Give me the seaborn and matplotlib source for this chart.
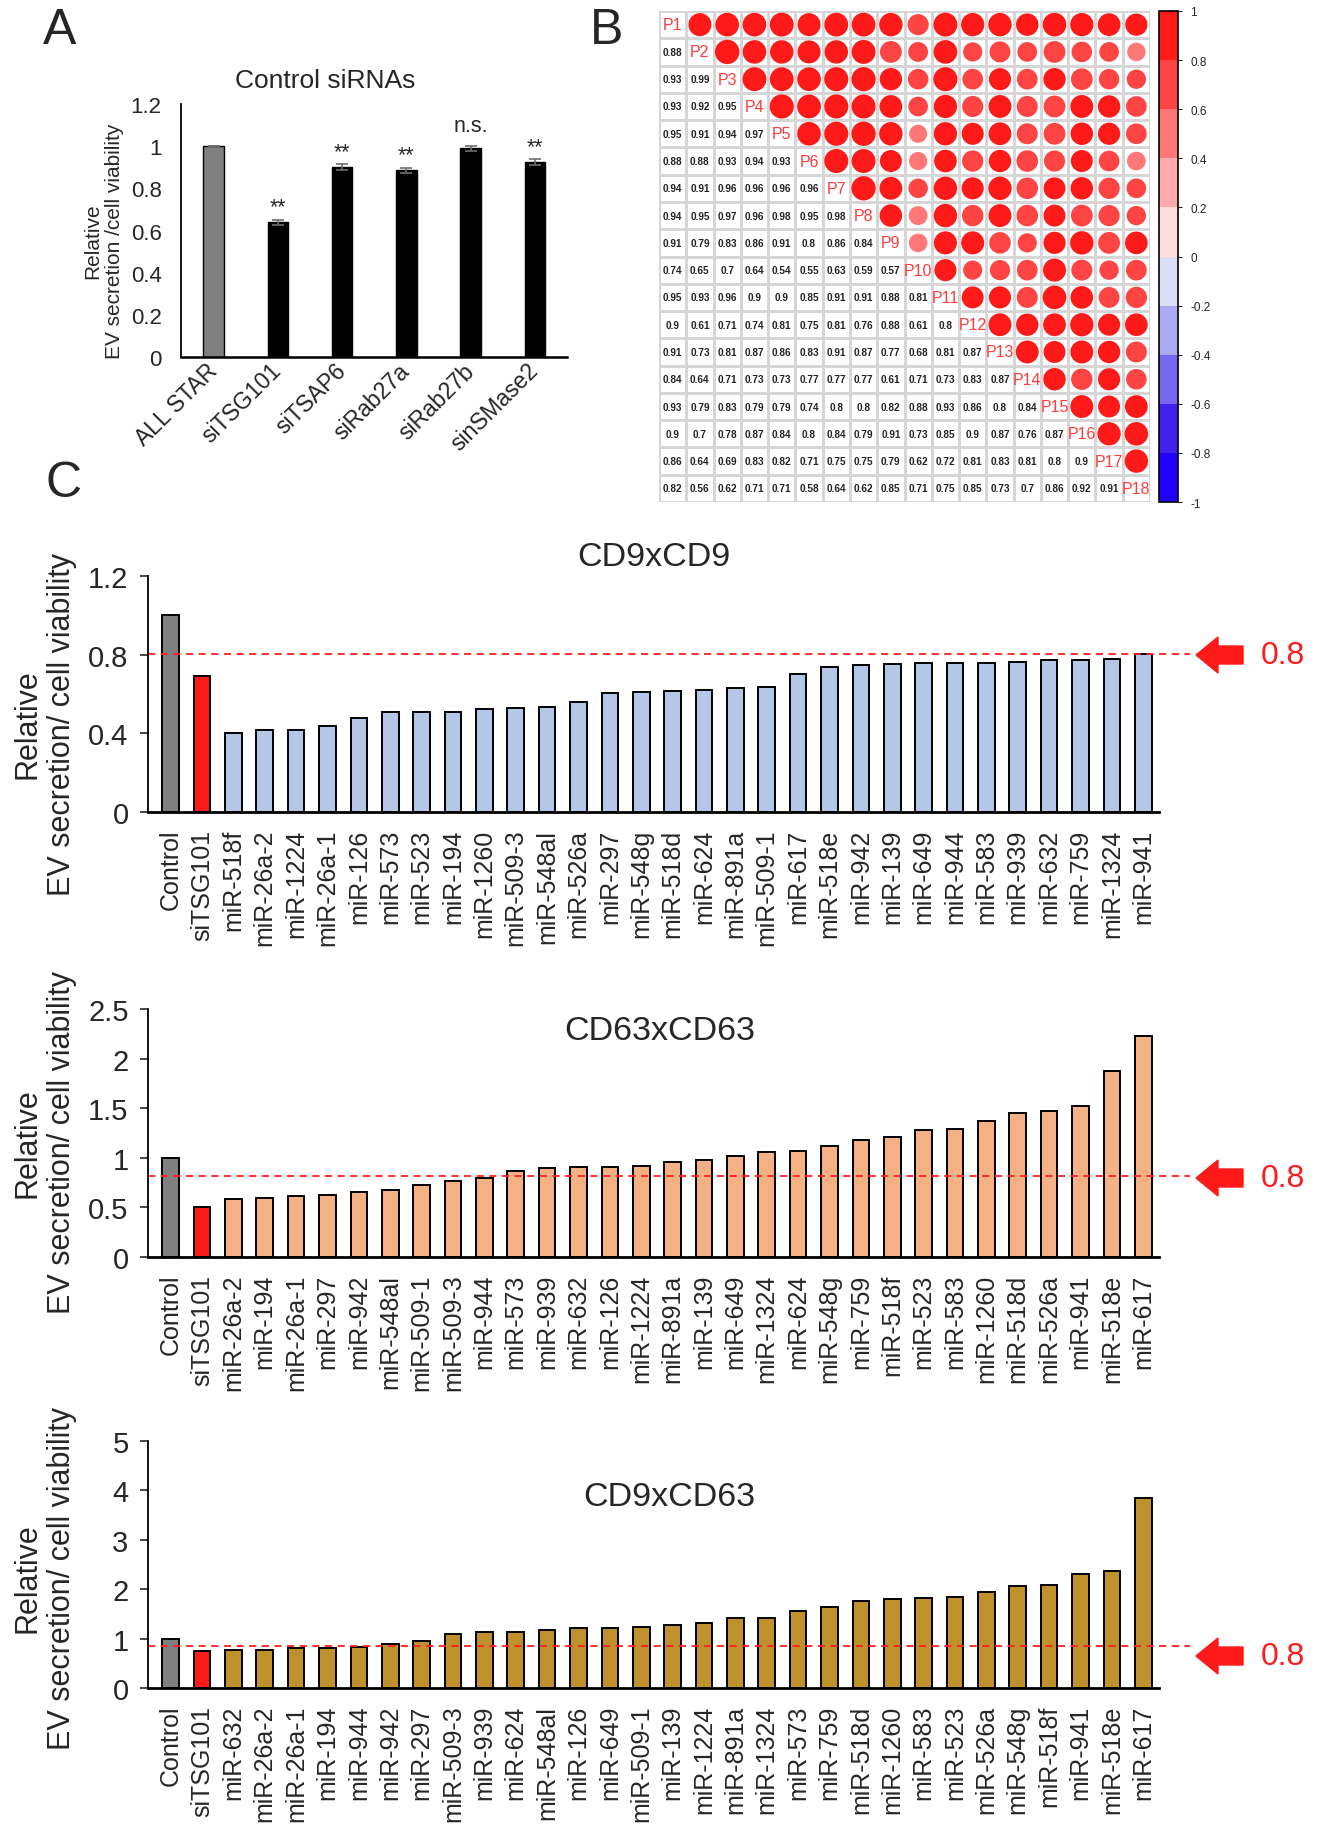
import numpy as np
import seaborn as sns
import matplotlib
matplotlib.use("Agg")
from matplotlib import pyplot as plt
from matplotlib import cm
from matplotlib.colors import ListedColormap, BoundaryNorm
from matplotlib.patches import Circle, FancyArrow
from matplotlib.transforms import IdentityTransform, blended_transform_factory

W, H = 1319, 1831

# ---- panel A: control siRNAs
ctrl_names = ["ALL STAR", "siTSG101", "siTSAP6", "siRab27a", "siRab27b", "sinSMase2"]
ctrl_vals = [1.0, 0.64, 0.90, 0.885, 0.99, 0.925]
ctrl_err = [0.0, 0.012, 0.015, 0.013, 0.012, 0.012]
ctrl_marks = ["", "**", "**", "**", "n.s.", "**"]

# ---- panel B: correlation between plates (lower triangle, row by row)
samples = [f"P{i}" for i in range(1, 19)]
corr_rows = [
    [0.88],
    [0.93, 0.99],
    [0.93, 0.92, 0.95],
    [0.95, 0.91, 0.94, 0.97],
    [0.88, 0.88, 0.93, 0.94, 0.93],
    [0.94, 0.91, 0.96, 0.96, 0.96, 0.96],
    [0.94, 0.95, 0.97, 0.96, 0.98, 0.95, 0.98],
    [0.91, 0.79, 0.83, 0.86, 0.91, 0.8, 0.86, 0.84],
    [0.74, 0.65, 0.7, 0.64, 0.54, 0.55, 0.63, 0.59, 0.57],
    [0.95, 0.93, 0.96, 0.9, 0.9, 0.85, 0.91, 0.91, 0.88, 0.81],
    [0.9, 0.61, 0.71, 0.74, 0.81, 0.75, 0.81, 0.76, 0.88, 0.61, 0.8],
    [0.91, 0.73, 0.81, 0.87, 0.86, 0.83, 0.91, 0.87, 0.77, 0.68, 0.81, 0.87],
    [0.84, 0.64, 0.71, 0.73, 0.73, 0.77, 0.77, 0.77, 0.61, 0.71, 0.73, 0.83, 0.87],
    [0.93, 0.79, 0.83, 0.79, 0.79, 0.74, 0.8, 0.8, 0.82, 0.88, 0.93, 0.86, 0.8, 0.84],
    [0.9, 0.7, 0.78, 0.87, 0.84, 0.8, 0.84, 0.79, 0.91, 0.73, 0.85, 0.9, 0.87, 0.76, 0.87],
    [0.86, 0.64, 0.69, 0.83, 0.82, 0.71, 0.75, 0.75, 0.79, 0.62, 0.72, 0.81, 0.83, 0.81, 0.8, 0.9],
    [0.82, 0.56, 0.62, 0.71, 0.71, 0.58, 0.64, 0.62, 0.85, 0.71, 0.75, 0.85, 0.73, 0.7, 0.86, 0.92, 0.91],
]
cbar_colors = ["#2200FF", "#4422EE", "#7766EE", "#AAAAF2", "#DDDDF8",
               "#FFDDDD", "#FFAAAA", "#FF7777", "#FF4444", "#FF1A1A"]
cbar_labels = ["-1", "-0.8", "-0.6", "-0.4", "-0.2", "0", "0.2", "0.4", "0.6", "0.8", "1"]

# ---- panel C: miRNA screens
cd9_names = ["Control", "siTSG101", "miR-518f", "miR-26a-2", "miR-1224", "miR-26a-1", "miR-126",
             "miR-573", "miR-523", "miR-194", "miR-1260", "miR-509-3", "miR-548al", "miR-526a",
             "miR-297", "miR-548g", "miR-518d", "miR-624", "miR-891a", "miR-509-1", "miR-617",
             "miR-518e", "miR-942", "miR-139", "miR-649", "miR-944", "miR-583", "miR-939",
             "miR-632", "miR-759", "miR-1324", "miR-941"]
cd9_vals = [1.0, 0.69, 0.40, 0.417, 0.417, 0.437, 0.48, 0.51, 0.51, 0.51, 0.525, 0.529, 0.532,
            0.557, 0.603, 0.61, 0.613, 0.618, 0.632, 0.637, 0.703, 0.738, 0.748, 0.753, 0.757,
            0.757, 0.76, 0.765, 0.774, 0.774, 0.779, 0.802]

cd63_names = ["Control", "siTSG101", "miR-26a-2", "miR-194", "miR-26a-1", "miR-297", "miR-942",
              "miR-548al", "miR-509-1", "miR-509-3", "miR-944", "miR-573", "miR-939", "miR-632",
              "miR-126", "miR-1224", "miR-891a", "miR-139", "miR-649", "miR-1324", "miR-624",
              "miR-548g", "miR-759", "miR-518f", "miR-523", "miR-583", "miR-1260", "miR-518d",
              "miR-526a", "miR-941", "miR-518e", "miR-617"]
cd63_vals = [1.0, 0.508, 0.582, 0.592, 0.612, 0.629, 0.66, 0.68, 0.727, 0.767, 0.80, 0.865,
             0.895, 0.905, 0.912, 0.919, 0.962, 0.982, 1.023, 1.06, 1.07, 1.12, 1.178, 1.211,
             1.279, 1.289, 1.366, 1.447, 1.474, 1.521, 1.877, 2.227]

cd963_names = ["Control", "siTSG101", "miR-632", "miR-26a-2", "miR-26a-1", "miR-194", "miR-944",
               "miR-942", "miR-297", "miR-509-3", "miR-939", "miR-624", "miR-548al", "miR-126",
               "miR-649", "miR-509-1", "miR-139", "miR-1224", "miR-891a", "miR-1324", "miR-573",
               "miR-759", "miR-518d", "miR-1260", "miR-583", "miR-523", "miR-526a", "miR-548g",
               "miR-518f", "miR-941", "miR-518e", "miR-617"]
cd963_vals = [1.0, 0.754, 0.767, 0.774, 0.80, 0.80, 0.84, 0.888, 0.956, 1.083, 1.124, 1.137,
              1.184, 1.205, 1.205, 1.225, 1.285, 1.312, 1.42, 1.427, 1.568, 1.635, 1.756, 1.81,
              1.824, 1.837, 1.938, 2.066, 2.093, 2.30, 2.369, 3.843]

cutoff_lines = [0.805, 0.821, 0.848]

sns.set_theme(style="ticks")
plt.rcParams["font.family"] = ["Liberation Sans", "DejaVu Sans"]
plt.rcParams["axes.edgecolor"] = "black"

fig = plt.figure(figsize=(W / 100, H / 100), dpi=100)


def add_px_axes(left, top, right, bottom):
    return fig.add_axes([left / W, 1 - bottom / H, (right - left) / W, (bottom - top) / H])


def fig_text(x, y, s, **kw):
    fig.text(x / W, 1 - y / H, s, **kw)


# ================= panel A
axa = add_px_axes(181, 105, 567, 358)
sns.barplot(x=ctrl_names, y=ctrl_vals, hue=ctrl_names, palette=["#808080"] + ["black"] * 5,
            legend=False, width=0.32, saturation=1, edgecolor="black", linewidth=1, ax=axa)
axa.errorbar(range(len(ctrl_vals)), ctrl_vals, yerr=ctrl_err, fmt="none", ecolor="#6e6e6e",
             capsize=4, elinewidth=1.2, capthick=1.2)
mark_off = {"**": 0.035, "n.s.": 0.07, "": 0}
for i, m in enumerate(ctrl_marks):
    axa.text(i, ctrl_vals[i] + ctrl_err[i] + mark_off[m], m, ha="center", va="baseline", fontsize=15.5)
axa.set_ylim(0, 1.2)
axa.set_xlim(-0.51, 5.5)
axa.set_yticks(np.arange(0, 1.21, 0.2))
axa.set_yticklabels(["0", "0.2", "0.4", "0.6", "0.8", "1", "1.2"])
axa.tick_params(axis="y", length=0, pad=14, labelsize=16)
axa.tick_params(axis="x", length=0, pad=7, labelsize=16.5)
for lab in axa.get_xticklabels():
    lab.set_rotation(45)
    lab.set_ha("right")
    lab.set_va("center")
    lab.set_rotation_mode("anchor")
axa.set_xlabel("")
axa.set_ylabel("")
sns.despine(ax=axa)
axa.spines["left"].set_linewidth(1.3)
axa.spines["bottom"].set_linewidth(1.8)
fig_text(325, 81, "Control siRNAs", ha="center", va="center", fontsize=19)
fig_text(104, 241, "Relative\nEV secretion /cell viability", ha="center", va="center",
         rotation=90, fontsize=15, multialignment="center")

# ================= panel B
n = len(samples)
corr = np.eye(n)
for i, row in enumerate(corr_rows, start=1):
    corr[i, :i] = row
    corr[:i, i] = row
annot = np.full((n, n), "", dtype=object)
for i in range(n):
    for j in range(i):
        annot[i, j] = f"{corr[i, j]:g}"

axb = add_px_axes(659, 12, 1150, 503)
sns.heatmap(np.zeros((n, n)), cmap=ListedColormap(["white"]), cbar=False, annot=annot, fmt="",
            annot_kws=dict(fontsize=7.2, fontweight="bold", color="#222222"),
            linewidths=1, linecolor="#d6d6d6", xticklabels=False, yticklabels=False, ax=axb)
cmap_b = ListedColormap(cbar_colors)
norm_b = BoundaryNorm(np.linspace(-1, 1, 11), cmap_b.N)
for i in range(n):
    for j in range(i + 1, n):
        r = corr[i, j]
        axb.add_patch(Circle((j + 0.5, i + 0.5), 0.45 * np.sqrt(abs(r)),
                             facecolor=cmap_b(norm_b(r)), edgecolor="none"))
    axb.text(i + 0.5, i + 0.5, samples[i], color="#ff3b3b", fontsize=11.5, ha="center", va="center")

caxb = add_px_axes(1159, 12, 1178, 503)
cb = fig.colorbar(cm.ScalarMappable(norm=norm_b, cmap=cmap_b), cax=caxb,
                  ticks=np.linspace(-1, 1, 11))
cb.ax.set_yticklabels(cbar_labels, fontsize=8.5)
cb.outline.set_linewidth(1.2)
cb.outline.set_edgecolor("black")
cb.ax.tick_params(length=3, width=0.8, pad=6)

# ================= panel C
screens = [
    dict(names=cd9_names, vals=cd9_vals, color="#B4C7E7", title="CD9xCD9", ymax=1.2, step=0.4,
         top=577, bottom=813, title_x=654, title_y=557, ylab_y=724, arrow_y=656, cut=cutoff_lines[0]),
    dict(names=cd63_names, vals=cd63_vals, color="#F4B183", title="CD63xCD63", ymax=2.5, step=0.5,
         top=1010, bottom=1258, title_x=660, title_y=1031, ylab_y=1143, arrow_y=1179, cut=cutoff_lines[1]),
    dict(names=cd963_names, vals=cd963_vals, color="#BF912C", title="CD9xCD63", ymax=5, step=1,
         top=1442, bottom=1689, title_x=669, title_y=1497, ylab_y=1578, arrow_y=1657, cut=cutoff_lines[2]),
]
ax_left, ax_right = 148, 1159
for sc in screens:
    ax = add_px_axes(ax_left, sc["top"], ax_right, sc["bottom"])
    k = len(sc["names"])
    colors = ["#808080", "#FF1A1A"] + [sc["color"]] * (k - 2)
    sns.barplot(x=sc["names"], y=sc["vals"], hue=sc["names"], palette=colors, legend=False,
                width=0.53, saturation=1, edgecolor="black", linewidth=1.4, ax=ax)
    ax.set_xlim(-0.72, k - 0.5)
    ax.set_ylim(0, sc["ymax"])
    ticks = np.arange(0, sc["ymax"] + 1e-9, sc["step"])
    ax.set_yticks(ticks)
    ax.set_yticklabels([f"{t:g}" for t in ticks])
    ax.tick_params(axis="y", length=6, width=1.2, pad=8, labelsize=21)
    ax.tick_params(axis="x", length=0, pad=12, labelsize=18, labelrotation=90)
    ax.set_xlabel("")
    ax.set_ylabel("")
    sns.despine(ax=ax)
    ax.spines["left"].set_linewidth(1.3)
    ax.spines["bottom"].set_linewidth(2)
    trans = blended_transform_factory(ax.transAxes, ax.transData)
    ax.plot([0, (1190 - ax_left) / (ax_right - ax_left)], [sc["cut"], sc["cut"]],
            transform=trans, clip_on=False, color="#FF2020", lw=1.3, ls=(0, (4, 3)))
    fig.add_artist(FancyArrow(1243, H - sc["arrow_y"], -47, 0, width=18, head_width=36,
                              head_length=22, length_includes_head=True, color="#FF1A1A",
                              transform=IdentityTransform()))
    fig_text(1261, sc["arrow_y"], "0.8", color="#FF1A1A", fontsize=23, ha="left", va="center")
    fig_text(sc["title_x"], sc["title_y"], sc["title"], ha="center", va="center", fontsize=24.5)
    fig_text(45, sc["ylab_y"], "Relative\nEV secretion/ cell viability", ha="center",
             va="center", rotation=90, fontsize=22, multialignment="center")

# panel letters
fig_text(60, 31, "A", ha="center", va="center", fontsize=36)
fig_text(607, 31, "B", ha="center", va="center", fontsize=36)
fig_text(64, 484, "C", ha="center", va="center", fontsize=36)

fig.savefig("out.png", dpi=100)
